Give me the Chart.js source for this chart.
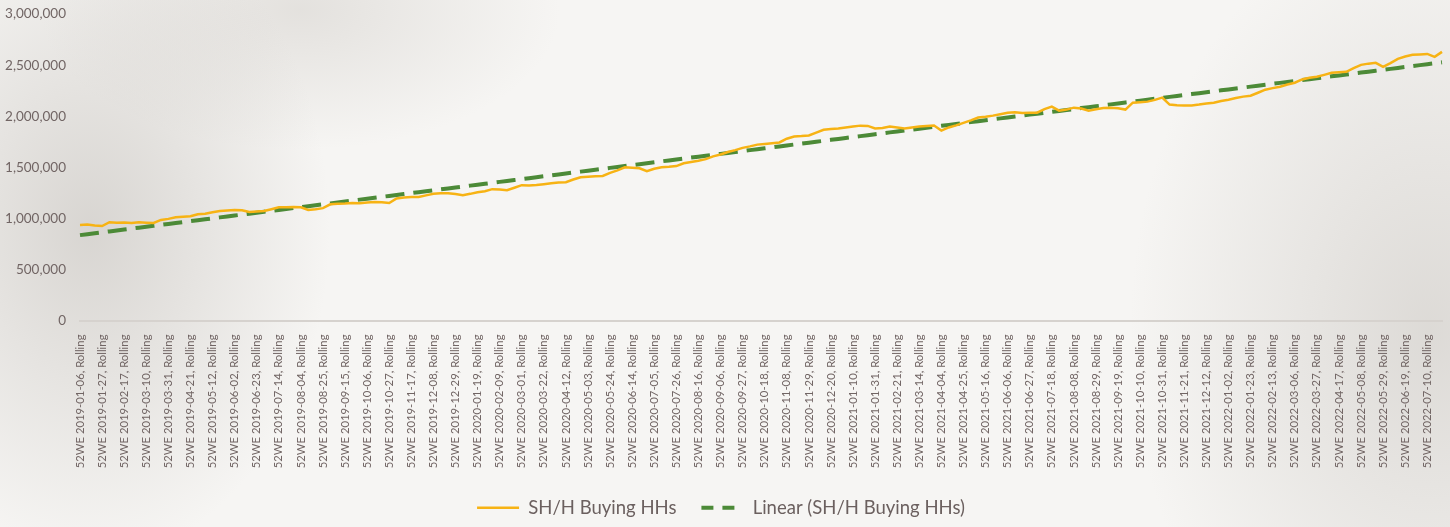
<!DOCTYPE html>
<html>
<head>
<meta charset="utf-8">
<script src="https://cdn.jsdelivr.net/npm/chart.js@4"></script>
<style>
  html, body { margin: 0; padding: 0; }
  body {
    width: 1450px; height: 527px; overflow: hidden;
    background:
      radial-gradient(ellipse 240px 330px at 90px 230px, rgba(196,192,187,0.6), rgba(196,192,187,0) 100%),
      radial-gradient(ellipse 300px 420px at 1430px 330px, rgba(200,196,191,0.55), rgba(200,196,191,0) 100%),
      radial-gradient(ellipse 260px 140px at 300px 10px, rgba(205,201,196,0.45), rgba(205,201,196,0) 100%),
      #f6f5f3;
  }
  #wrap { position: relative; width: 1450px; height: 527px; }
</style>
</head>
<body>
<div id="wrap"><canvas id="chartHHs"></canvas></div>
<script>
// weekly rolling 52-week periods
const firstWeek = '2019-01-06';
const weekCount = 186;

// SH/H buying households per week
const buyingHHs = [
  935000, 940000, 930000, 925000, 962000, 958000, 960000, 955000, 962000, 958000,
  955000, 985000, 995000, 1010000, 1015000, 1020000, 1040000, 1045000, 1060000, 1072000,
  1078000, 1082000, 1080000, 1062000, 1068000, 1072000, 1090000, 1108000, 1110000, 1112000,
  1108000, 1082000, 1090000, 1100000, 1138000, 1142000, 1145000, 1150000, 1148000, 1155000,
  1160000, 1158000, 1150000, 1195000, 1205000, 1208000, 1210000, 1225000, 1240000, 1247000,
  1245000, 1238000, 1227000, 1240000, 1256000, 1265000, 1286000, 1282000, 1276000, 1300000,
  1325000, 1322000, 1326000, 1335000, 1344000, 1350000, 1354000, 1380000, 1403000, 1408000,
  1413000, 1415000, 1445000, 1470000, 1500000, 1495000, 1490000, 1461000, 1485000, 1500000,
  1505000, 1512000, 1540000, 1552000, 1565000, 1580000, 1607000, 1625000, 1650000, 1668000,
  1690000, 1705000, 1722000, 1728000, 1735000, 1743000, 1780000, 1802000, 1806000, 1812000,
  1840000, 1868000, 1874000, 1880000, 1890000, 1900000, 1908000, 1905000, 1880000, 1885000,
  1899000, 1890000, 1880000, 1890000, 1899000, 1905000, 1909000, 1860000, 1890000, 1910000,
  1935000, 1960000, 1987000, 1995000, 2006000, 2020000, 2035000, 2038000, 2032000, 2035000,
  2035000, 2070000, 2094000, 2055000, 2065000, 2084000, 2075000, 2055000, 2068000, 2080000,
  2084000, 2078000, 2065000, 2133000, 2138000, 2143000, 2160000, 2182000, 2114000, 2108000,
  2104000, 2106000, 2114000, 2125000, 2133000, 2150000, 2162000, 2178000, 2192000, 2201000,
  2230000, 2260000, 2275000, 2289000, 2310000, 2328000, 2360000, 2377000, 2386000, 2405000,
  2425000, 2430000, 2435000, 2470000, 2503000, 2515000, 2523000, 2484000, 2520000, 2562000,
  2585000, 2601000, 2605000, 2610000, 2581000, 2630000
];

const yTicks = [0, 500000, 1000000, 1500000, 2000000, 2500000, 3000000];
const labelEvery = 3;

const weekLabels = [];
const start = new Date(firstWeek + 'T00:00:00Z');
for (let i = 0; i < weekCount; i++) {
  const d = new Date(start.getTime() + i * 7 * 86400000);
  weekLabels.push('52WE ' + d.toISOString().slice(0, 10) + ', Rolling');
}

// least-squares trend over the weekly series
function linearTrend(values) {
  const n = values.length;
  let sx = 0, sy = 0, sxy = 0, sxx = 0;
  values.forEach((v, i) => { sx += i; sy += v; sxy += i * v; sxx += i * i; });
  const slope = (n * sxy - sx * sy) / (n * sxx - sx * sx);
  const icpt = (sy - slope * sx) / n;
  return values.map((v, i) => icpt + slope * i);
}
const trendValues = linearTrend(buyingHHs);

const textColor = '#716564';
const fontFamily = 'Lato, "Open Sans", sans-serif';

const ctx = document.getElementById('chartHHs').getContext('2d');
const chart = new Chart(ctx, {
  type: 'line',
  data: {
    labels: weekLabels,
    datasets: [{
      label: 'SH/H Buying HHs',
      data: buyingHHs,
      borderColor: '#f7b314',
      borderWidth: 2.5,
      pointRadius: 0,
      tension: 0
    }, {
      label: 'Linear (SH/H Buying HHs)',
      data: trendValues,
      borderColor: '#4c8a37',
      borderWidth: 4,
      borderDash: [19, 9],
      pointRadius: 0,
      tension: 0
    }]
  },
  options: {
    responsive: true,
    maintainAspectRatio: false,
    animation: false,
    layout: { padding: { top: 2, right: 8, left: 0, bottom: 0 } },
    plugins: {
      tooltip: { enabled: false },
      legend: {
        position: 'bottom',
        labels: {
          color: '#6b605f',
          font: { family: fontFamily, size: 18.5 },
          usePointStyle: true,
          pointStyle: 'line',
          pointStyleWidth: 42,
          padding: 25,
          generateLabels(ch) {
            return ch.data.datasets.map((ds, i) => ({
              text: ds.label,
              strokeStyle: ds.borderColor,
              fillStyle: ds.borderColor,
              lineWidth: i === 0 ? 2.5 : 4,
              lineDash: i === 0 ? [] : [12, 9],
              pointStyle: 'line',
              fontColor: '#6b605f',
              datasetIndex: i
            }));
          }
        }
      }
    },
    scales: {
      x: {
        grid: { display: false },
        border: { display: true, color: '#d6d2ce', width: 2 },
        afterFit(scale) { scale.height = 153; },
        ticks: {
          autoSkip: false,
          minRotation: 90,
          maxRotation: 90,
          padding: 6,
          color: textColor,
          font: { family: fontFamily, size: 11.3 },
          callback(value, index) {
            return index % labelEvery === 0 ? this.getLabelForValue(value) : null;
          }
        }
      },
      y: {
        min: yTicks[0],
        max: yTicks[yTicks.length - 1],
        grid: { display: false },
        border: { display: false },
        afterFit(scale) { scale.width = 80; },
        afterBuildTicks(scale) { scale.ticks = yTicks.map(v => ({ value: v })); },
        ticks: {
          padding: 6,
          color: textColor,
          font: { family: fontFamily, size: 13.5 },
          callback: v => v.toLocaleString('en-US')
        }
      }
    }
  }
});
</script>
</body>
</html>
